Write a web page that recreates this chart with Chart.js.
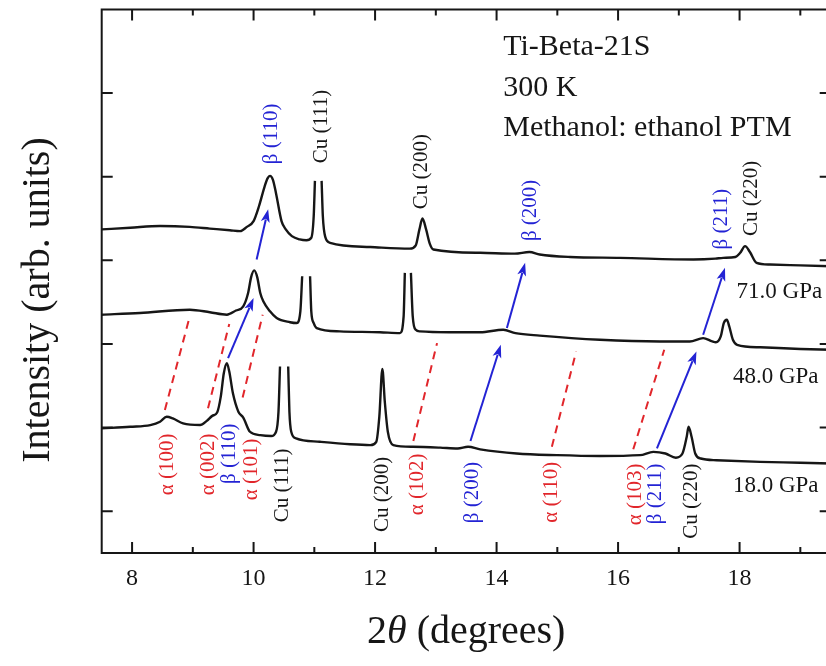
<!DOCTYPE html>
<html lang="en">
<head>
<meta charset="UTF-8">
<title>Ti-Beta-21S XRD</title>
<script src="https://cdn.jsdelivr.net/npm/chart.js"></script>
<style>
    html, body { margin: 0; padding: 0; background: #fff; overflow: hidden; }
    #chart { display: block; }
</style>
</head>
<body>
<canvas id="chart" width="834" height="666"></canvas>
<script>
// 2theta (degrees) and intensity (arb. units, stacked)
// null = clipped Cu peak (line is broken at the top)
const theta18 = [7.5, 7.97, 8.30, 8.46, 8.57, 8.67, 8.84, 9.12, 9.23, 9.32, 9.40, 9.46, 9.51, 9.56, 9.60, 9.66, 9.75, 9.83, 9.94, 10.11, 10.29, 10.37, 10.41, 10.435, 10.50, 10.57, 10.59, 10.62, 10.70, 11.09, 11.59, 11.92, 12.02, 12.07, 12.12, 12.16, 12.21, 12.30, 12.62, 13.07, 13.36, 13.53, 13.73, 14.33, 14.99, 15.70, 16.36, 16.58, 16.78, 16.95, 17.06, 17.13, 17.16, 17.21, 17.27, 17.36, 17.62, 18.34, 19.00, 19.5];
const int18 = [0.99, 1.01, 1.03, 1.07, 1.13, 1.11, 1.05, 1.03, 1.08, 1.14, 1.18, 1.37, 1.65, 1.77, 1.67, 1.41, 1.19, 1.12, 0.95, 0.91, 0.90, 0.95, 1.19, 1.73, null, 1.73, 1.19, 0.95, 0.87, 0.83, 0.80, 0.79, 0.83, 1.13, 1.70, 1.31, 0.95, 0.79, 0.77, 0.76, 0.75, 0.77, 0.74, 0.69, 0.67, 0.66, 0.67, 0.71, 0.69, 0.64, 0.69, 0.89, 1.01, 0.89, 0.69, 0.63, 0.61, 0.59, 0.58, 0.57];

const theta48 = [7.5, 8.13, 8.95, 9.28, 9.56, 9.71, 9.83, 9.91, 9.96, 10.01, 10.06, 10.11, 10.16, 10.27, 10.38, 10.60, 10.71, 10.77, 10.80, 10.86, 10.93, 10.95, 10.99, 11.04, 11.42, 12.08, 12.41, 12.47, 12.49, 12.54, 12.59, 12.62, 12.67, 12.74, 13.23, 13.73, 14.11, 14.31, 14.71, 15.70, 16.69, 17.18, 17.40, 17.55, 17.61, 17.69, 17.74, 17.79, 17.83, 17.89, 17.96, 18.34, 19.00, 19.5];
const int48 = [2.35, 2.37, 2.41, 2.38, 2.35, 2.40, 2.45, 2.61, 2.80, 2.88, 2.80, 2.61, 2.51, 2.39, 2.31, 2.26, 2.25, 2.39, 2.81, null, 2.81, 2.39, 2.25, 2.19, 2.15, 2.14, 2.13, 2.33, 2.85, null, 2.85, 2.33, 2.17, 2.15, 2.14, 2.14, 2.17, 2.13, 2.10, 2.05, 2.03, 2.03, 2.07, 2.03, 2.02, 2.09, 2.25, 2.29, 2.21, 2.05, 1.99, 1.96, 1.94, 1.93];

const theta71 = [7.5, 7.97, 8.46, 8.95, 9.28, 9.61, 9.78, 9.89, 10.00, 10.09, 10.18, 10.23, 10.27, 10.32, 10.37, 10.46, 10.53, 10.63, 10.76, 10.87, 10.95, 10.99, 11.01, 11.06, 11.12, 11.14, 11.18, 11.26, 11.92, 12.57, 12.67, 12.73, 12.78, 12.84, 12.90, 12.96, 13.73, 14.30, 14.54, 14.71, 15.21, 16.03, 17.24, 17.60, 17.73, 17.93, 18.01, 18.09, 18.17, 18.28, 18.50, 19.00, 19.5];
const int71 = [3.37, 3.39, 3.41, 3.40, 3.38, 3.36, 3.35, 3.40, 3.47, 3.65, 3.88, 3.98, 4.01, 3.96, 3.80, 3.47, 3.37, 3.29, 3.25, 3.24, 3.27, 3.53, 3.95, null, 3.95, 3.53, 3.28, 3.21, 3.16, 3.14, 3.18, 3.37, 3.50, 3.37, 3.20, 3.13, 3.09, 3.08, 3.10, 3.07, 3.04, 3.03, 3.01, 3.02, 3.03, 3.04, 3.09, 3.17, 3.10, 2.97, 2.95, 2.94, 2.93];

const xTickValues = [8, 9, 10, 11, 12, 13, 14, 15, 16, 17, 18, 19];
const yTickValues = [0, 1, 2, 3, 4, 5];

// [text, 2theta, intensity at the end of the text next to the pattern, colour, 'up' or 'down']
const peakLabels = [
    ['β (110)', 10.30, 4.15, 'blue', 'up'],
    ['Cu (111)', 11.12, 4.16, 'black', 'up'],
    ['Cu (200)', 12.76, 3.61, 'black', 'up'],
    ['β (200)', 14.55, 3.23, 'blue', 'up'],
    ['β (211)', 17.71, 3.13, 'blue', 'up'],
    ['Cu (220)', 18.19, 3.29, 'black', 'up'],
    ['α (100)', 8.58, 0.93, 'red', 'down'],
    ['α (002)', 9.26, 0.93, 'red', 'down'],
    ['β (110)', 9.60, 1.05, 'blue', 'down'],
    ['α (101)', 9.96, 0.87, 'red', 'down'],
    ['Cu (111)', 10.48, 0.75, 'black', 'down'],
    ['Cu (200)', 12.13, 0.65, 'black', 'down'],
    ['α (102)', 12.69, 0.69, 'red', 'down'],
    ['β (200)', 13.61, 0.59, 'blue', 'down'],
    ['α (110)', 14.91, 0.59, 'red', 'down'],
    ['α (103)', 16.28, 0.57, 'red', 'down'],
    ['β (211)', 16.61, 0.57, 'blue', 'down'],
    ['Cu (220)', 17.21, 0.57, 'black', 'down']
];

// alpha peaks that vanish: [x0, y0, x1, y1]
const dashLines = [
    [8.54, 1.21, 8.95, 2.33],
    [9.25, 1.23, 9.60, 2.24],
    [9.82, 1.36, 10.15, 2.35],
    [12.63, 0.84, 13.02, 2.01],
    [14.91, 0.77, 15.31, 1.91],
    [16.25, 0.74, 16.76, 1.93]
];

// beta peak shifts: [x0, y0, x1, y1], head at the second point
const arrows = [
    [9.58, 1.83, 10.00, 2.55],
    [13.57, 0.84, 14.07, 1.99],
    [16.64, 0.75, 17.29, 1.91],
    [10.05, 3.01, 10.24, 3.61],
    [14.17, 2.19, 14.47, 2.97],
    [17.40, 2.11, 17.76, 2.91]
];

const pressureLabels = [['71.0 GPa', 17.95, 2.62], ['48.0 GPa', 17.89, 1.61], ['18.0 GPa', 17.89, 0.30]];
const infoLines = [['Ti-Beta-21S', 14.11, 5.45], ['300 K', 14.11, 4.97], ['Methanol: ethanol PTM', 14.11, 4.49]];

const colors = { black: '#161616', red: '#e1262b', blue: '#2323d4' };
const serif = '"Liberation Serif", "DejaVu Serif", serif';

function pts(xs, ys) {
    return xs.map((x, i) => ({ x: x, y: ys[i] }));
}

function dataset(label, xs, ys) {
    return {
        label: label,
        data: pts(xs, ys),
        borderColor: colors.black,
        borderWidth: 2.4,
        pointRadius: 0,
        fill: false,
        spanGaps: false,
        cubicInterpolationMode: 'monotone'
    };
}

const decorations = {
    id: 'decorations',
    afterDatasetsDraw(chart) {
        const ctx = chart.ctx;
        const x = chart.scales.x, y = chart.scales.y;
        ctx.save();
        // red dashed lines
        ctx.strokeStyle = colors.red;
        ctx.lineWidth = 2;
        ctx.setLineDash([8, 6]);
        dashLines.forEach(d => {
            ctx.beginPath();
            ctx.moveTo(x.getPixelForValue(d[0]), y.getPixelForValue(d[1]));
            ctx.lineTo(x.getPixelForValue(d[2]), y.getPixelForValue(d[3]));
            ctx.stroke();
        });
        ctx.setLineDash([]);
        // blue arrows
        ctx.strokeStyle = colors.blue;
        ctx.fillStyle = colors.blue;
        arrows.forEach(a => {
            const x0 = x.getPixelForValue(a[0]), y0 = y.getPixelForValue(a[1]);
            const x1 = x.getPixelForValue(a[2]), y1 = y.getPixelForValue(a[3]);
            const ang = Math.atan2(y1 - y0, x1 - x0);
            const hl = 13, hw = 4.5;
            ctx.beginPath();
            ctx.moveTo(x0, y0);
            ctx.lineTo(x1 - Math.cos(ang) * hl * 0.8, y1 - Math.sin(ang) * hl * 0.8);
            ctx.stroke();
            ctx.beginPath();
            ctx.moveTo(x1, y1);
            ctx.lineTo(x1 - Math.cos(ang) * hl - Math.sin(ang) * hw, y1 - Math.sin(ang) * hl + Math.cos(ang) * hw);
            ctx.lineTo(x1 - Math.cos(ang) * hl * 0.75, y1 - Math.sin(ang) * hl * 0.75);
            ctx.lineTo(x1 - Math.cos(ang) * hl + Math.sin(ang) * hw, y1 - Math.sin(ang) * hl - Math.cos(ang) * hw);
            ctx.closePath();
            ctx.fill();
        });
        // rotated peak labels
        ctx.font = '21px ' + serif;
        ctx.textBaseline = 'middle';
        peakLabels.forEach(l => {
            ctx.save();
            ctx.translate(x.getPixelForValue(l[1]), y.getPixelForValue(l[2]));
            ctx.rotate(-Math.PI / 2);
            ctx.fillStyle = colors[l[3]];
            ctx.textAlign = l[4] === 'up' ? 'left' : 'right';
            ctx.fillText(l[0], 0, 0);
            ctx.restore();
        });
        // pressures
        ctx.fillStyle = colors.black;
        ctx.textAlign = 'left';
        ctx.font = '23px ' + serif;
        pressureLabels.forEach(p => {
            ctx.fillText(p[0], x.getPixelForValue(p[1]), y.getPixelForValue(p[2]));
        });
        // sample info
        ctx.textBaseline = 'alphabetic';
        ctx.font = '30px ' + serif;
        infoLines.forEach(t => {
            ctx.fillText(t[0], x.getPixelForValue(t[1]), y.getPixelForValue(t[2]));
        });
        ctx.restore();
    },
    afterDraw(chart) {
        const ctx = chart.ctx, a = chart.chartArea;
        const x = chart.scales.x, y = chart.scales.y;
        ctx.save();
        ctx.strokeStyle = colors.black;
        ctx.lineWidth = 2;
        ctx.strokeRect(a.left, a.top, a.right - a.left, a.bottom - a.top);
        ctx.beginPath();
        xTickValues.forEach(v => {
            const px = x.getPixelForValue(v), len = v % 2 === 0 ? 11 : 6;
            ctx.moveTo(px, a.bottom); ctx.lineTo(px, a.bottom - len);
            ctx.moveTo(px, a.top); ctx.lineTo(px, a.top + len);
        });
        yTickValues.forEach(v => {
            const py = y.getPixelForValue(v);
            ctx.moveTo(a.left, py); ctx.lineTo(a.left + 11, py);
            ctx.moveTo(a.right, py); ctx.lineTo(a.right - 11, py);
        });
        ctx.stroke();

        // axis titles
        ctx.fillStyle = colors.black;
        ctx.textBaseline = 'middle';
        const plain = '40px ' + serif, ital = 'italic 40px ' + serif;
        const parts = [['2', plain], ['θ', ital], [' (degrees)', plain]];
        let total = 0;
        parts.forEach(p => { ctx.font = p[1]; total += ctx.measureText(p[0]).width; });
        let cx = (a.left + a.right) / 2 - total / 2;
        ctx.textAlign = 'left';
        parts.forEach(p => {
            ctx.font = p[1];
            ctx.fillText(p[0], cx, 632);
            cx += ctx.measureText(p[0]).width;
        });
        ctx.save();
        ctx.translate(38, 300);
        ctx.rotate(-Math.PI / 2);
        ctx.textAlign = 'center';
        ctx.font = plain;
        ctx.fillText('Intensity (arb. units)', 0, 0);
        ctx.restore();
        ctx.restore();
    }
};

const config = {
    type: 'line',
    data: {
        datasets: [
            dataset('18.0 GPa', theta18, int18),
            dataset('48.0 GPa', theta48, int48),
            dataset('71.0 GPa', theta71, int71)
        ]
    },
    options: {
        responsive: false,
        animation: false,
        layout: { padding: { left: 101.7, top: 9.5, right: 3.3, bottom: 0 } },
        plugins: { legend: { display: false }, tooltip: { enabled: false } },
        scales: {
            x: {
                type: 'linear',
                min: 7.5,
                max: 19.5,
                afterBuildTicks: s => { s.ticks = xTickValues.map(v => ({ value: v })); },
                afterFit: s => { s.height = 113; },
                grid: { display: false, drawTicks: false },
                border: { display: false },
                ticks: {
                    padding: 11,
                    maxRotation: 0,
                    autoSkip: false,
                    color: colors.black,
                    font: { family: serif, size: 24 },
                    callback: v => (v % 2 === 0 ? v : '')
                }
            },
            y: {
                type: 'linear',
                display: false,
                min: -0.5,
                max: 6
            }
        }
    },
    plugins: [decorations]
};

new Chart(document.getElementById('chart'), config);
</script>
</body>
</html>
